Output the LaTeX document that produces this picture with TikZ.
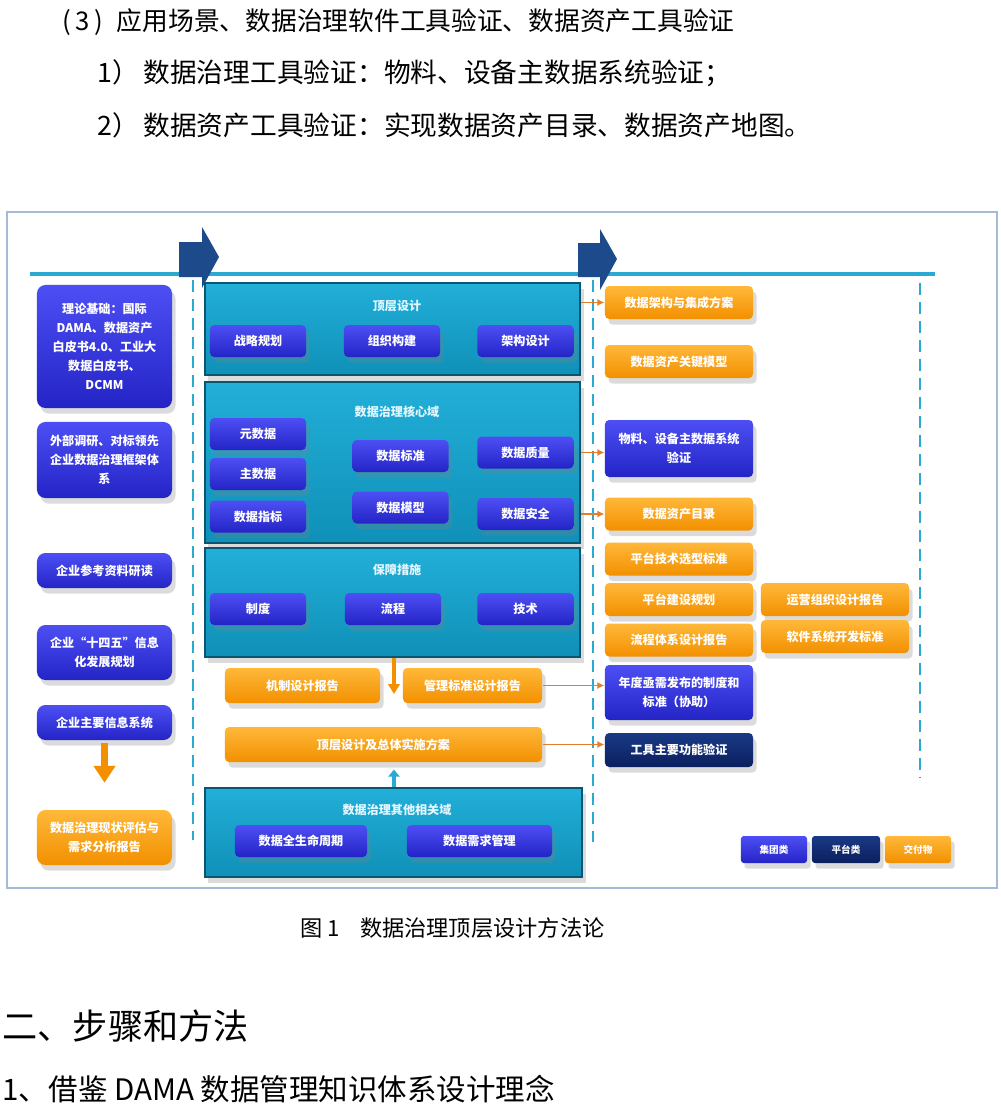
\documentclass[tikz,border=0pt]{standalone}
\usepackage{fontspec}
\setmainfont{Noto Sans CJK SC}
\usetikzlibrary{arrows.meta,shadows}

\definecolor{grptop}{HTML}{4D4FF4}
\definecolor{grpbot}{HTML}{2424C6}
\definecolor{deltop}{HTML}{FFB83A}
\definecolor{delbot}{HTML}{F29000}
\definecolor{plattop}{HTML}{1A3A86}
\definecolor{platbot}{HTML}{0B1F5E}
\definecolor{paneltop}{HTML}{22AFD8}
\definecolor{panelbot}{HTML}{0F90B8}
\definecolor{panelline}{HTML}{0A5570}
\definecolor{paneltext}{HTML}{E4F7FF}
\definecolor{linkorange}{HTML}{E0802E}
\definecolor{rulecyan}{HTML}{2AAAD3}
\definecolor{stepblue}{HTML}{1C4A8A}
\definecolor{framegrey}{HTML}{A5BAD4}

\newcommand\difont{\bfseries\fontsize{8.6}{13.5}\selectfont}

\tikzset{
  bodytext/.style={anchor=west, inner sep=0pt, font=\fontsize{19}{22}\selectfont},
  soft/.style={drop shadow={opacity=0.28, shadow xshift=2.5pt, shadow yshift=-4pt}},
  panelbox/.style={draw=panelline, line width=1.7pt, top color=paneltop,
    bottom color=panelbot, minimum width=9.375cm, inner sep=0pt, soft},
  paneltitle/.style={text=paneltext, font=\difont},
  grpbox/.style={rounded corners=3pt, top color=grptop, bottom color=grpbot,
    text=white, font=\difont, align=center, inner sep=1pt,
    minimum width=2.4cm, minimum height=0.8cm, soft},
  delbox/.style={grpbox, top color=deltop, bottom color=delbot},
  platbox/.style={grpbox, top color=plattop, bottom color=platbot},
  leftgrp/.style={grpbox, rounded corners=6pt, minimum width=3.375cm},
  leftdel/.style={leftgrp, top color=deltop, bottom color=delbot},
  rightdel/.style={delbox, minimum width=3.7cm, minimum height=0.825cm},
  keybox/.style={grpbox, rounded corners=2pt, minimum height=0.675cm,
    font=\bfseries\fontsize{6.8}{8}\selectfont},
  link/.style={->, linkorange, line width=1.3pt, >={Latex[length=5pt,width=5pt]}},
  dropdown/.style={-{Triangle[length=7pt,width=8pt]}, delbot, line width=3.5pt},
  guideline/.style={rulecyan, line width=1.8pt, dash pattern=on 8.5pt off 5pt},
}

\begin{document}
\begin{tikzpicture}[>=Latex, thick, x=0.025cm, y=-0.025cm]
  \fill[white] (0,0) rectangle (1001,1113);
  \useasboundingbox (0,0) rectangle (1001,1113);

  % Text above the figure
  \node[bodytext, font=\fontsize{18.3}{22}\selectfont] (usecase) at (62,22) {(\,3\,)\hspace{0.55em}应用场景、数据治理软件工具验证、数据资产工具验证};
  \node[bodytext] (toolcheck) at (97,73) {1）\,数据治理工具验证：物料、设备主数据系统验证；};
  \node[bodytext] (assetcheck) at (97,125) {2）\,数据资产工具验证：实现数据资产目录、数据资产地图。};

  % Frame, top rule and stage arrows
  \draw[framegrey, line width=1.3pt] (7,212) rectangle (997,888);
  \draw[rulecyan, line width=2.2pt] (30,274) -- (935,274);
  \fill[stepblue] (179,242) -- (202,242) -- (202,227) -- (219,257) -- (202,288) -- (202,277) -- (179,277) -- cycle;
  \fill[stepblue] (578,243) -- (600,243) -- (600,229) -- (617,259) -- (600,290) -- (600,277) -- (578,277) -- cycle;
  \draw[guideline] (193,280) -- (193,840);
  \draw[guideline] (593,280) -- (593,842);
  \draw[guideline] (920,283) -- (920,777);

  % Inputs (left column)
  \node[leftgrp, minimum height=3.075cm] (theory) at (104.5,346.5) {理论基础：国际\\DAMA、数据资产\\白皮书4.0、工业大\\数据白皮书、\\DCMM};
  \node[leftgrp, minimum height=1.9cm] (survey) at (104.5,460) {外部调研、对标领先\\企业数据治理框架体\\系};
  \node[leftgrp, minimum height=0.875cm] (reading) at (104.5,570.5) {企业参考资料研读};
  \node[leftgrp, minimum height=1.375cm] (fiveyear) at (104.5,652.5) {企业“十四五”信息\\化发展规划};
  \node[leftgrp, minimum height=0.875cm] (systems) at (104.5,722.5) {企业主要信息系统};
  \node[leftdel, minimum height=1.375cm] (assess) at (104.5,837.5) {数据治理现状评估与\\需求分析报告};
  \draw[-{Triangle[length=12pt,width=15pt]}, delbot, line width=5pt, shorten <=2pt, shorten >=19pt] (systems.south) -- (assess.north);

  % Top-level design
  \node[panelbox, minimum height=2.3cm] (toppanel) at (392.5,329) {};
  \node[paneltitle] (toptitle) at (397,306) {顶层设计};
  \node[grpbox] (strategy) at (258,341) {战略规划};
  \node[grpbox] (organize) at (392,341) {组织构建};
  \node[grpbox] (architect) at (525.5,341) {架构设计};

  % Core domains
  \node[panelbox, minimum height=4.025cm] (corepanel) at (392.5,462.5) {};
  \node[paneltitle] (coretitle) at (397,412) {数据治理核心域};
  \node[grpbox] (metadata) at (258,434) {元数据};
  \node[grpbox] (masterdata) at (258,474) {主数据};
  \node[grpbox] (indicator) at (258,516.5) {数据指标};
  \node[grpbox] (standard) at (400.5,456) {数据标准};
  \node[grpbox] (model) at (400.5,507.5) {数据模型};
  \node[grpbox] (quality) at (525.5,452.5) {数据质量};
  \node[grpbox] (security) at (525.5,514) {数据安全};

  % Safeguards
  \node[panelbox, minimum height=2.725cm] (guardpanel) at (392.5,602.5) {};
  \node[paneltitle] (guardtitle) at (397,570) {保障措施};
  \node[grpbox] (policy) at (258,609) {制度};
  \node[grpbox] (process) at (393,609) {流程};
  \node[grpbox] (technique) at (525.5,609) {技术};

  % Reports and plan
  \node[delbox, minimum width=3.875cm, minimum height=0.875cm] (mechanism) at (302.5,685.5) {机制设计报告};
  \node[delbox, minimum width=3.475cm, minimum height=0.875cm] (mgmtstd) at (472.5,685.5) {管理标准设计报告};
  \node[delbox, minimum width=7.925cm, minimum height=0.875cm] (masterplan) at (383.5,744.5) {顶层设计及总体实施方案};
  \coordinate (gapdrop) at (394,694);
  \draw[dropdown] (guardpanel.south -| gapdrop) -- (gapdrop);

  % Other related domains
  \node[panelbox, minimum width=9.425cm, minimum height=2.225cm] (otherpanel) at (393.5,832.5) {};
  \node[paneltitle] (othertitle) at (397,810) {数据治理其他相关域};
  \node[grpbox, minimum width=3.3cm] (lifecycle) at (301,841) {数据全生命周期};
  \node[grpbox, minimum width=3.625cm] (demand) at (479.5,841) {数据需求管理};
  \draw[-{Triangle[length=5pt,width=8pt]}, rulecyan, line width=3.5pt, shorten >=5pt] (otherpanel.north -| gapdrop) -- (masterplan.south -| gapdrop);

  % Deliverables (right columns)
  \node[rightdel] (integration) at (679,302.5) {数据架构与集成方案};
  \node[rightdel] (keymodel) at (679,361.5) {数据资产关键模型};
  \node[grpbox, minimum width=3.7cm, minimum height=1.425cm] (material) at (679,448.5) {物料、设备主数据系统\\验证};
  \node[rightdel] (catalog) at (679,514) {数据资产目录};
  \node[rightdel] (techsel) at (679,559) {平台技术选型标准};
  \node[rightdel] (build) at (679,599.5) {平台建设规划};
  \node[rightdel] (flowrep) at (679,640) {流程体系设计报告};
  \node[grpbox, minimum width=3.7cm, minimum height=1.375cm] (annual) at (679,692.5) {年度亟需发布的制度和\\标准（协助）};
  \node[platbox, minimum width=3.7cm, minimum height=0.85cm] (toolfunc) at (679,750) {工具主要功能验证};
  \node[rightdel] (operation) at (835,599.5) {运营组织设计报告};
  \node[rightdel] (software) at (835,636.5) {软件系统开发标准};

  % Links
  \draw[link] (integration.west -| toppanel.east) -- (integration.west);
  \draw[link] (quality -| corepanel.east) -- (quality -| material.west);
  \draw[link] (security -| corepanel.east) -- (catalog.west);
  \draw[link] (mgmtstd.east) -- (mgmtstd.east -| annual.west);
  \draw[link] (masterplan.east) -- (masterplan.east -| toolfunc.west);

  % Legend
  \node[keybox, minimum width=1.65cm] (keygrp) at (774,849.5) {集团类};
  \node[keybox, minimum width=1.7cm, top color=plattop, bottom color=platbot] (keyplat) at (846,849.5) {平台类};
  \node[keybox, minimum width=1.65cm, top color=deltop, bottom color=delbot] (keydel) at (918,849.5) {交付物};

  % Caption and following text
  \node[bodytext, font=\fontsize{15.8}{18}\selectfont] (caption) at (300,928) {图 1\hspace{0.9em}数据治理顶层设计方法论};
  \node[bodytext, font=\fontsize{25}{28}\selectfont] (section) at (2,1026) {二、步骤和方法};
  \node[bodytext, font=\fontsize{21}{24}\selectfont] (subsection) at (2,1089) {1、借鉴 DAMA 数据管理知识体系设计理念};
\end{tikzpicture}
\end{document}
